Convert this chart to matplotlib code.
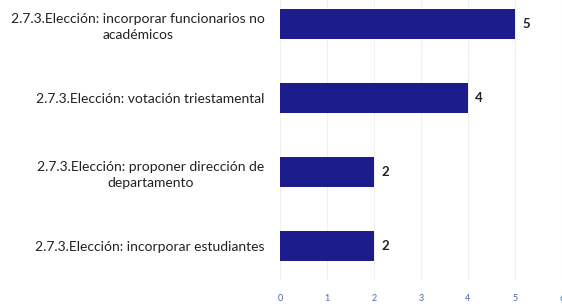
import matplotlib
matplotlib.use('Agg')
import matplotlib.pyplot as plt

categories = ['2.7.3.Elección: incorporar estudiantes',
              '2.7.3.Elección: proponer dirección de\ndepartamento',
              '2.7.3.Elección: votación triestamental',
              '2.7.3.Elección: incorporar funcionarios no\nacadémicos']
values = [2, 2, 4, 5]
xticks = [0, 1, 2, 3, 4, 5, 6]

plt.rcParams['font.family'] = ['Lato', 'DejaVu Sans']

fig = plt.figure(figsize=(5.62, 3.04), dpi=100)
ax = fig.add_axes([280 / 562, 24 / 304, 282 / 562, 280 / 304])

ypos = list(range(len(categories)))
ax.barh(ypos, values, height=0.4, color='#1c1c8c', zorder=3)
for y, v in zip(ypos, values):
    ax.text(v + 0.15, y, str(v), va='center', ha='left', fontsize=9.5,
            fontweight='bold', color='#222222')

ax.set_xlim(0, 6)
ax.set_ylim(-0.46, 3.32)
ax.set_xticks(xticks)
ax.set_xticklabels([str(t) for t in xticks], fontsize=6.5, color='#4a6aa0')
ax.set_yticks(ypos)
ax.set_yticklabels(categories, fontsize=10, color='#222222',
                   multialignment='center', linespacing=1.45)
ax.tick_params(axis='both', length=0)
ax.tick_params(axis='y', pad=11)
ax.tick_params(axis='x', pad=10)
ax.grid(axis='x', color='#f0f0f0', linewidth=0.8, zorder=0)
for s in ax.spines.values():
    s.set_visible(False)

fig.savefig('out.png', dpi=100)
